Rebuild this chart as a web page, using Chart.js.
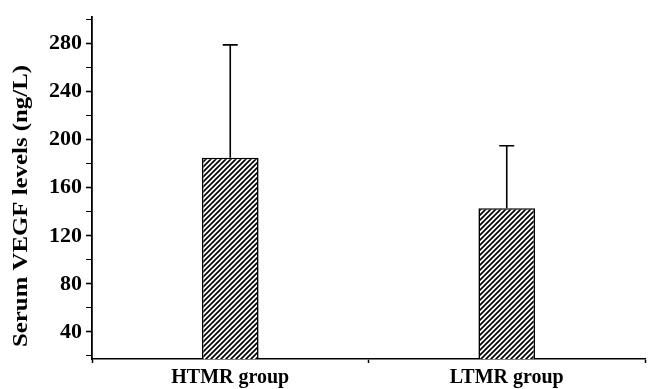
<!DOCTYPE html>
<html>
<head>
<meta charset="utf-8">
<script src="https://cdn.jsdelivr.net/npm/chart.js@4/dist/chart.umd.min.js"></script>
<style>
  html, body { margin: 0; padding: 0; background: #fff; }
  #wrap { width: 649px; height: 389px; }
</style>
</head>
<body>
<div id="wrap"><canvas id="vegfChart" width="649" height="389"></canvas></div>
<script>
// data
const groups = ["HTMR group", "LTMR group"];
const meanVegf = [185, 143];
const sdVegf = [94, 52];
const yTicks = [20, 40, 60, 80, 100, 120, 140, 160, 180, 200, 220, 240, 260, 280, 300];
const yLabels = [40, 80, 120, 160, 200, 240, 280];
const yTitle = "Serum VEGF levels (ng/L)";

const serif = "'Liberation Serif', 'Times New Roman', serif";

// hatch fill "////"
function makeHatch() {
  let c = document.createElement("canvas");
  c.width = 5;
  c.height = 5;
  let g = c.getContext("2d");
  g.fillStyle = "#fff";
  g.fillRect(0, 0, 5, 5);
  g.strokeStyle = "#000";
  g.lineWidth = 1.7;
  g.beginPath();
  g.moveTo(-1, 6); g.lineTo(6, -1);
  g.moveTo(-1, 1); g.lineTo(1, -1);
  g.moveTo(4, 6); g.lineTo(6, 4);
  g.stroke();
  return g.createPattern(c, "repeat");
}

// upper error bars
const errorBars = {
  id: "errorBars",
  afterDatasetsDraw(chart) {
    let ctx = chart.ctx;
    let yScale = chart.scales.y;
    let meta = chart.getDatasetMeta(0);
    ctx.save();
    ctx.strokeStyle = "#000";
    ctx.lineWidth = 1.6;
    meta.data.forEach((bar, i) => {
      let yTop = yScale.getPixelForValue(meanVegf[i] + sdVegf[i]);
      let yBase = yScale.getPixelForValue(meanVegf[i]);
      ctx.beginPath();
      ctx.moveTo(bar.x, yBase);
      ctx.lineTo(bar.x, yTop);
      ctx.moveTo(bar.x - 7.5, yTop);
      ctx.lineTo(bar.x + 7.5, yTop);
      ctx.stroke();
    });
    ctx.restore();
  },
};

// y title, stretched along its length like the scan
const yTitlePlugin = {
  id: "yTitlePlugin",
  afterDraw(chart) {
    let ctx = chart.ctx;
    ctx.save();
    ctx.font = "bold 20px " + serif;
    ctx.fillStyle = "#000";
    ctx.textAlign = "center";
    ctx.textBaseline = "middle";
    let w = ctx.measureText(yTitle).width;
    ctx.translate(22, 206);
    ctx.rotate(-Math.PI / 2);
    ctx.scale(282 / w, 1);
    ctx.fillText(yTitle, 0, 0);
    ctx.restore();
  },
};

Chart.defaults.font.family = serif;
Chart.defaults.color = "#000";

new Chart(document.getElementById("vegfChart"), {
  type: "bar",
  data: {
    labels: groups,
    datasets: [
      {
        data: meanVegf,
        backgroundColor: makeHatch(),
        borderColor: "#000",
        borderWidth: 1.6,
        barPercentage: 0.205,
        categoryPercentage: 1,
      },
    ],
  },
  options: {
    responsive: false,
    animation: false,
    layout: { padding: { top: 15, right: 4, left: 0, bottom: 0 } },
    plugins: {
      legend: { display: false },
      tooltip: { enabled: false },
    },
    scales: {
      x: {
        afterFit(scale) {
          scale.height = 30;
        },
        grid: {
          drawOnChartArea: false,
          drawTicks: true,
          tickLength: 4,
          tickColor: "#000",
          tickWidth: 1.5,
        },
        border: { color: "#000", width: 1.6 },
        ticks: {
          padding: 3,
          font: { family: serif, size: 20, weight: "bold" },
          color: "#000",
        },
      },
      y: {
        min: 17.5,
        max: 302,
        afterFit(scale) {
          scale.width = 92;
        },
        afterBuildTicks(scale) {
          scale.ticks = yTicks.map((v) => ({ value: v }));
        },
        grid: {
          drawOnChartArea: false,
          drawTicks: true,
          tickLength: 6,
          tickColor: "#000",
          tickWidth: (c) => (c.tick && yLabels.includes(c.tick.value) ? 1.6 : 1),
        },
        border: { color: "#000", width: 1.8 },
        ticks: {
          autoSkip: false,
          padding: 4,
          font: { family: serif, size: 22, weight: "bold" },
          color: "#000",
          callback: (v) => (yLabels.includes(v) ? String(v) : ""),
        },
        title: { display: false },
      },
    },
  },
  plugins: [errorBars, yTitlePlugin],
});
</script>
</body>
</html>
